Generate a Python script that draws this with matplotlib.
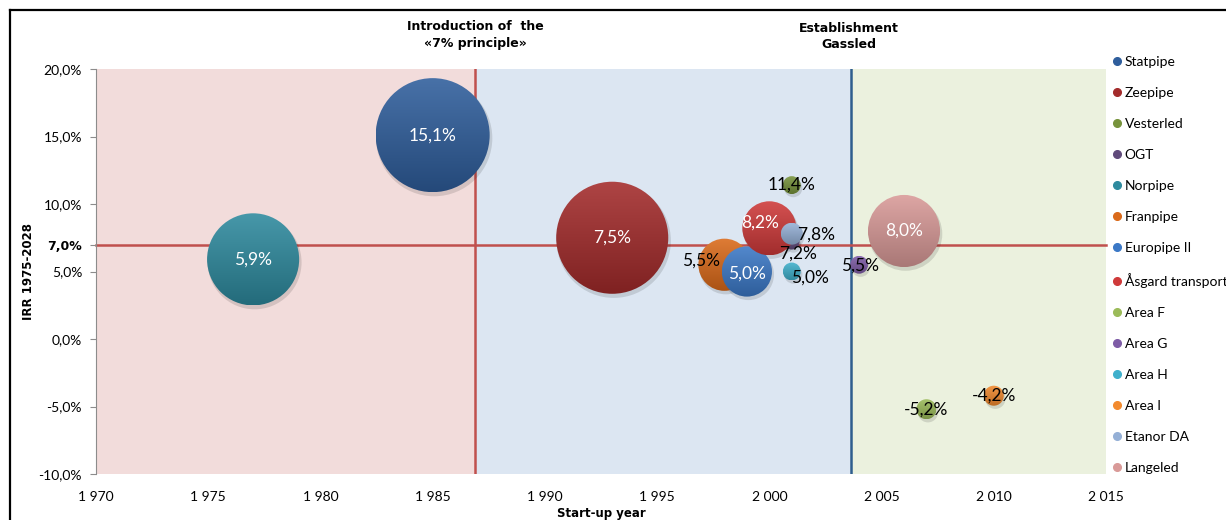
import matplotlib
matplotlib.use("Agg")
import numpy as np
import matplotlib.pyplot as plt
from matplotlib.lines import Line2D
from matplotlib.patches import Ellipse
from matplotlib.colors import to_rgb

# pipeline data
names = ["Statpipe", "Zeepipe", "Vesterled", "OGT", "Norpipe", "Franpipe",
         "Europipe II", "Åsgard transport", "Area F", "Area G", "Area H",
         "Area I", "Etanor DA", "Langeled"]
start_year = [1985, 1993, 2001, 2001, 1977, 1998, 1999, 2000, 2007, 2004, 2001, 2010, 2001, 2006]
irr = [15.1, 7.5, 11.4, 7.2, 5.9, 5.5, 5.0, 8.2, -5.2, 5.5, 5.0, -4.2, 7.8, 8.0]
bubble_size = [32.5, 31.4, 0.8, 0.6, 21.2, 6.8, 6.3, 7.3, 1.0, 0.8, 0.8, 1.0, 1.2, 13.0]
colors = ["#2F5E9C", "#A32B2B", "#77933C", "#604A7B", "#2E8A9E", "#DA6A1A",
          "#3B78C6", "#CF3A3A", "#9BBB59", "#7E5CA6", "#3FB0CC", "#F28A2E",
          "#95B0D6", "#D99A98"]
label_white = [True, True, False, False, True, False, True, True, False, False, False, False, False, True]
label_offset_px = [(0, 0), (0, 0), (0, 0), (6, -12), (0, 0), (-23, 4), (0, -2), (-9, 6),
                   (0, 0), (1, -1), (18, -6), (0, 0), (24, -1), (0, 0)]

xticks = [1970, 1975, 1980, 1985, 1990, 1995, 2000, 2005, 2010, 2015]
yticks = [-10, -5, 0, 5, 10, 15, 20]
regions = [(1970, 1986.9, "#F2DCDB"), (1986.9, 2003.65, "#DCE6F2"), (2003.65, 2015, "#EBF1DE")]

fig = plt.figure(figsize=(12.26, 5.2), dpi=100)
ax = fig.add_axes([96 / 1226, 1 - 474 / 520, 1010 / 1226, 405 / 520])
ax.set_xlim(1970, 2015)
ax.set_ylim(-10, 20)

for x0, x1, c in regions:
    ax.axvspan(x0, x1, color=c, zorder=0, lw=0)
ax.axvline(1986.9, color="#C0504D", lw=1.8, zorder=1)
ax.axvline(2003.65, color="#2F5E8E", lw=1.8, zorder=1)
ax.axhline(7.0, color="#C0504D", lw=1.8, zorder=1, clip_on=False)

# bubble area ~ size; convert to radius in pixels, then to data units
px_per_year = 1010 / 45
px_per_pct = 405 / 30
grad = np.linspace(0, 1, 64)[:, None]
for i in range(len(names)):
    r = np.sqrt(207.36 * bubble_size[i]) / 2 * 100 / 72
    w, h = 2 * r / px_per_year, 2 * r / px_per_pct
    x, y = start_year[i], irr[i]
    shadow = Ellipse((x + 1.5 / px_per_year, y - 3 / px_per_pct), w * 1.02, h * 1.02,
                     color="black", alpha=0.12, lw=0, zorder=2)
    ax.add_patch(shadow)
    base = np.array(to_rgb(colors[i]))
    top = base + (1 - base) * 0.12
    bottom = base * 0.78
    img = top[None, None, :] * (1 - grad[:, :, None]) + bottom[None, None, :] * grad[:, :, None]
    img = np.repeat(img, 2, axis=1)
    clip = Ellipse((x, y), w, h, transform=ax.transData)
    im = ax.imshow(img, extent=(x - w / 2, x + w / 2, y - h / 2, y + h / 2), origin="upper",
                   aspect="auto", interpolation="bilinear", zorder=3 + i * 0.01)
    im.set_clip_path(clip)

for i in range(len(names)):
    dx, dy = label_offset_px[i]
    txt = f"{irr[i]:.1f}%".replace(".", ",")
    big = label_white[i]
    ax.annotate(txt, (start_year[i], irr[i]), xytext=(dx * 0.72, dy * 0.72),
                textcoords="offset points", ha="center", va="center",
                color="white" if big else "black", fontsize=12.5, family="Lato",
                zorder=5)

ax.set_xlim(1970, 2015)
ax.set_ylim(-10, 20)
ax.set_xticks(xticks)
ax.set_xticklabels([f"{x // 1000} {x % 1000:03d}" for x in xticks], family="Lato", fontsize=10)
ax.set_yticks(yticks + [7])
ylabels = [f"{y:.1f}%".replace(".", ",") for y in yticks] + ["7,0%"]
ax.set_yticklabels(ylabels, family="Lato", fontsize=10)
ax.get_yticklabels()[-1].set_fontweight("bold")
ax.get_yticklabels()[-1].set_family("DejaVu Sans")
ax.get_yticklabels()[-1].set_fontsize(9)
ax.tick_params(axis="x", length=0, pad=12)
ax.tick_params(axis="y", length=4, color="#8C8C8C", pad=6)
for side in ["top", "right", "bottom"]:
    ax.spines[side].set_visible(False)
ax.spines["left"].set_color("#8C8C8C")

fig.text(28 / 1226, 1 - 271 / 520, "IRR 1975-2028", rotation=90, ha="center", va="center",
         fontsize=8.5, fontweight="bold")
fig.text(601 / 1226, 1 - 513 / 520, "Start-up year", ha="center", va="center",
         fontsize=8.5, fontweight="bold")
fig.text(475 / 1226, 1 - 35 / 520, "Introduction of  the\n«7% principle»", ha="center",
         va="center", fontsize=9, fontweight="bold", linespacing=1.4)
fig.text(849 / 1226, 1 - 36 / 520, "Establishment\nGassled", ha="center",
         va="center", fontsize=9, fontweight="bold", linespacing=1.3)

handles = [Line2D([], [], ls="", marker="o", markersize=5.5, color=c) for c in colors]
fig.legend(handles, names, loc="upper left", bbox_to_anchor=(1104 / 1226, 1 - 50 / 520),
           frameon=False, prop={"family": "Lato", "size": 10}, handletextpad=0.1,
           handlelength=1.0, labelspacing=1.37, borderaxespad=0)

fig.add_artist(Line2D([10 / 1226, 10 / 1226], [0, 1 - 10 / 520], color="black", lw=1.6))
fig.add_artist(Line2D([10 / 1226, 1], [1 - 10 / 520, 1 - 10 / 520], color="black", lw=1.6))

fig.savefig("out.png", dpi=100)
